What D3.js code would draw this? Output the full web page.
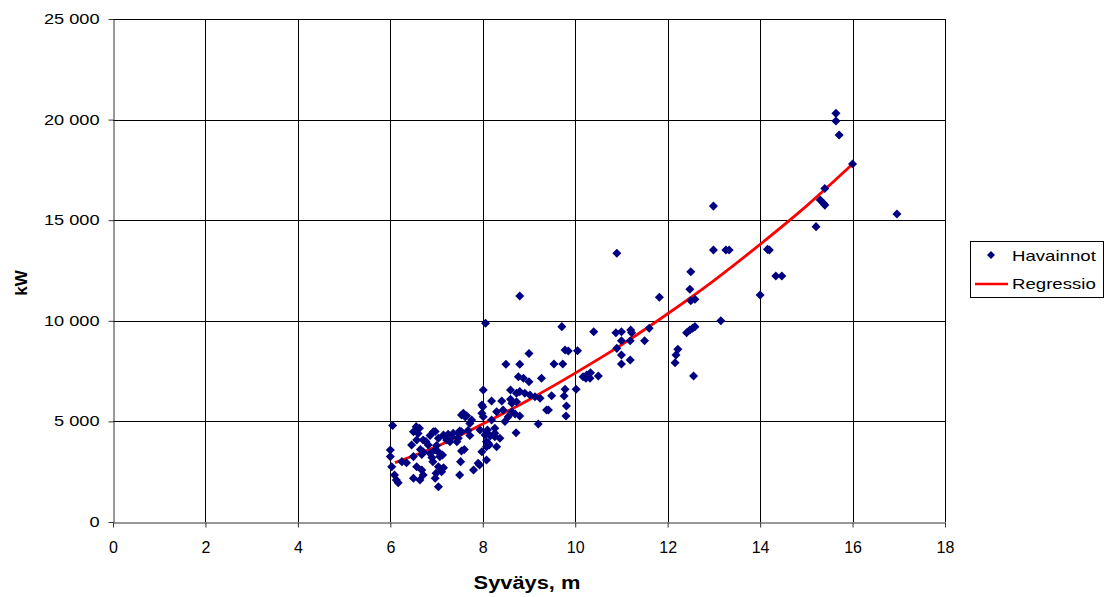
<!DOCTYPE html>
<html>
<head>
<meta charset="utf-8">
<script src="https://cdnjs.cloudflare.com/ajax/libs/d3/7.8.5/d3.min.js"></script>
<style>
  body { margin: 0; background: #fff; }
  text { font-family: "Liberation Sans", Arial, sans-serif; fill: #000; }
</style>
</head>
<body>
<div class="svg-container"></div>
<script>
// observations: [syväys (m), teho (kW)]
var havainnot = [
  [6.05,4800],[6.0,3580],[6.0,3250],[6.03,2750],[6.09,2340],[6.13,2090],[6.17,1950],[6.25,3000],[6.35,2950],
  [6.46,3830],[6.5,4490],[6.56,4740],[6.63,4660],[6.57,4080],[6.5,3250],[6.5,2170],[6.57,2750],[6.68,2580],
  [6.71,2340],[6.64,2090],[6.71,4080],[6.82,3830],[6.71,3490],[6.86,3410],[6.97,3580],[7.07,3250],[6.93,4490],
  [7.04,4160],[6.99,2420],[7.04,2750],[6.97,2170],[7.04,1750],[6.6,4400],[6.68,3350],[6.77,4000],[6.9,3200],
  [6.92,3000],[7.0,3800],[7.03,3500],[6.86,4300],[6.97,4500],[6.65,3600],
  [7.15,4320],[7.22,4080],[7.25,4360],[7.29,3990],[7.33,4240],[7.36,4410],[7.44,3990],[7.47,4410],[7.5,4520],
  [7.47,4160],[7.54,4490],[7.54,5320],[7.62,5230],[7.58,5400],[7.65,5280],[7.72,4900],[7.76,5070],[7.68,4550],
  [7.72,4300],[7.54,3530],[7.13,3330],[7.52,3000],[7.5,2340],[7.8,2580],[7.9,2920],[7.93,2830],[7.15,2700],
  [7.11,2500],[7.6,3600],[7.98,5820],[7.98,5400],[8.0,5730],[8.01,5230],[8.01,6560],[7.94,4570],[8.08,4410],
  [8.05,4320],[8.08,3990],[8.12,3910],[8.14,3830],[8.3,3740],[8.08,3740],[7.98,3490],[8.08,3080],
  [8.06,9880],[8.8,11230],[9.0,8380],[8.5,7840],[8.8,7840],[8.77,7220],[8.88,7140],[9.0,6970],[9.27,7140],
  [8.6,6560],[8.8,6480],[8.91,6400],[9.02,6310],[9.13,6230],[9.24,6150],[8.19,6010],[8.41,6010],[8.63,5900],
  [8.73,5980],[8.73,6400],[8.6,6100],[8.3,5480],[8.44,5570],[8.63,5480],[8.7,5370],[8.8,5270],[9.38,5570],
  [8.19,5070],[8.48,4990],[8.55,5230],[9.2,4870],[8.26,4660],[8.16,4270],[8.26,4240],[8.72,4440],[8.37,4160],
  [8.26,4410],[8.1,4570],
  [9.71,9710],[9.78,8550],[9.85,8500],[10.05,8510],[9.54,7850],[9.73,7850],[9.49,6280],[9.76,6260],[9.78,6600],
  [10.02,6600],[9.42,5570],[9.81,5770],[9.8,5270],[10.4,9460],[10.17,7220],[10.25,7310],[10.32,7140],
  [10.33,7420],[10.5,7260],[10.23,7140],
  [10.9,13360],[10.88,9410],[11.0,9460],[11.2,9540],[11.22,9410],[11.6,9630],[11.0,9010],[11.19,9010],
  [11.5,9010],[10.9,8630],[11.0,8300],[11.0,7850],[11.19,8050],[11.82,11170],
  [12.16,7920],[12.18,8300],[12.22,8580],[12.41,9410],[12.48,9540],[12.54,9630],[12.59,9710],[12.56,7260],
  [12.5,11000],[12.59,11070],[12.48,11570],[12.5,12440],[12.99,15700],[12.99,13520],[13.26,13520],
  [13.33,13520],[13.15,10000],
  [14.0,11280],[14.16,13550],[14.2,13520],[14.34,12230],[14.47,12230],[15.21,14680],[15.3,16000],[15.37,15840],
  [15.4,15750],[15.4,16580],[15.64,20310],[15.64,19930],[15.71,19230],[16.0,17790],[16.96,15310]
];

// regression curve
var regressioX = [6.1, 7, 8, 9, 10, 11, 12, 13, 14, 15, 16];
var regressioY = [2950, 3750, 4870, 6080, 7400, 8800, 10350, 12000, 13800, 15700, 17790];

var xTicks = [0, 2, 4, 6, 8, 10, 12, 14, 16, 18];
var yTicks = [0, 5000, 10000, 15000, 20000, 25000];
var legendLabels = ["Havainnot", "Regressio"];

var width = 1109,
    height = 597;
var plotLeft = 113, plotRight = 945, plotTop = 19, plotBottom = 522;

var svg = d3.select('.svg-container').append('svg')
  .attr('width', width)
  .attr('height', height);

var x = d3.scaleLinear().domain([0, 18]).range([plotLeft, plotRight]);
var y = d3.scaleLinear().domain([0, 25000]).range([plotBottom, plotTop]);

var fmt = d3.formatLocale({decimal: ",", thousands: " ", grouping: [3], currency: ["", ""]}).format(",");

// grid
svg.append("g").selectAll("line")
  .data(xTicks.slice(1))
  .enter().append("line")
  .attr("x1", function(d) { return Math.round(x(d)) + 0.5; })
  .attr("x2", function(d) { return Math.round(x(d)) + 0.5; })
  .attr("y1", plotTop).attr("y2", plotBottom)
  .attr("stroke", "#000").attr("stroke-width", 1);

svg.append("g").selectAll("line")
  .data(yTicks.slice(1))
  .enter().append("line")
  .attr("y1", function(d) { return Math.round(y(d)) + 0.5; })
  .attr("y2", function(d) { return Math.round(y(d)) + 0.5; })
  .attr("x1", plotLeft).attr("x2", plotRight)
  .attr("stroke", "#000").attr("stroke-width", 1);

// axes
var xAxis = svg.append("g")
  .attr("transform", "translate(0," + (plotBottom + 0.5) + ")")
  .call(d3.axisBottom(x).tickValues(xTicks).tickSize(5).tickSizeOuter(0));
xAxis.selectAll("text")
  .attr("y", 19)
  .style("font-size", "16px");

var yAxis = svg.append("g")
  .attr("transform", "translate(" + (plotLeft + 0.5) + ",0)")
  .call(d3.axisLeft(y).tickValues(yTicks).tickFormat(fmt).tickSize(5).tickSizeOuter(0));
yAxis.selectAll("text")
  .attr("x", 0)
  .attr("transform", "translate(-14,0) scale(1.3,1)")
  .style("font-size", "14px");

svg.selectAll(".domain").attr("stroke", "#333");
svg.selectAll(".tick line").attr("stroke", "#333");
svg.selectAll(".tick").attr("font-family", null);

// axis titles
svg.append("text")
  .attr("transform", "translate(527,589) scale(1.15,1)")
  .attr("text-anchor", "middle")
  .style("font-size", "19px").style("font-weight", "bold")
  .text("Syväys, m");

svg.append("text")
  .attr("transform", "translate(27,283) rotate(-90)")
  .attr("text-anchor", "middle")
  .style("font-size", "17px").style("font-weight", "bold")
  .text("kW");

// regression line
var line = d3.line()
  .x(function(d) { return x(d[0]); })
  .y(function(d) { return y(d[1]); })
  .curve(d3.curveMonotoneX);

svg.append("path")
  .datum(regressioX.map(function(d, i) { return [d, regressioY[i]]; }))
  .attr("d", line)
  .attr("fill", "none")
  .attr("stroke", "#ff0000")
  .attr("stroke-width", 2.8);

// observations
var diamond = d3.symbol().type(d3.symbolDiamond2).size(52);

svg.append("g").selectAll("path")
  .data(havainnot)
  .enter().append("path")
  .attr("d", diamond)
  .attr("transform", function(d) { return "translate(" + x(d[0]) + "," + y(d[1]) + ")"; })
  .attr("fill", "#000080");

// legend
var legend = svg.append("g");
legend.append("rect")
  .attr("x", 970.5).attr("y", 241.5)
  .attr("width", 133).attr("height", 56)
  .attr("fill", "#fff").attr("stroke", "#000");

legend.append("path")
  .attr("d", d3.symbol().type(d3.symbolDiamond2).size(40))
  .attr("transform", "translate(991,255)")
  .attr("fill", "#000080");

legend.append("line")
  .attr("x1", 975).attr("x2", 1008)
  .attr("y1", 284).attr("y2", 284)
  .attr("stroke", "#ff0000").attr("stroke-width", 2.5);

legend.selectAll("text")
  .data(legendLabels)
  .enter().append("text")
  .attr("x", 0).attr("y", 0)
  .attr("transform", function(d, i) { return "translate(1012," + (261 + i * 28) + ") scale(1.33,1)"; })
  .style("font-size", "14px")
  .text(function(d) { return d; });
</script>
</body>
</html>
